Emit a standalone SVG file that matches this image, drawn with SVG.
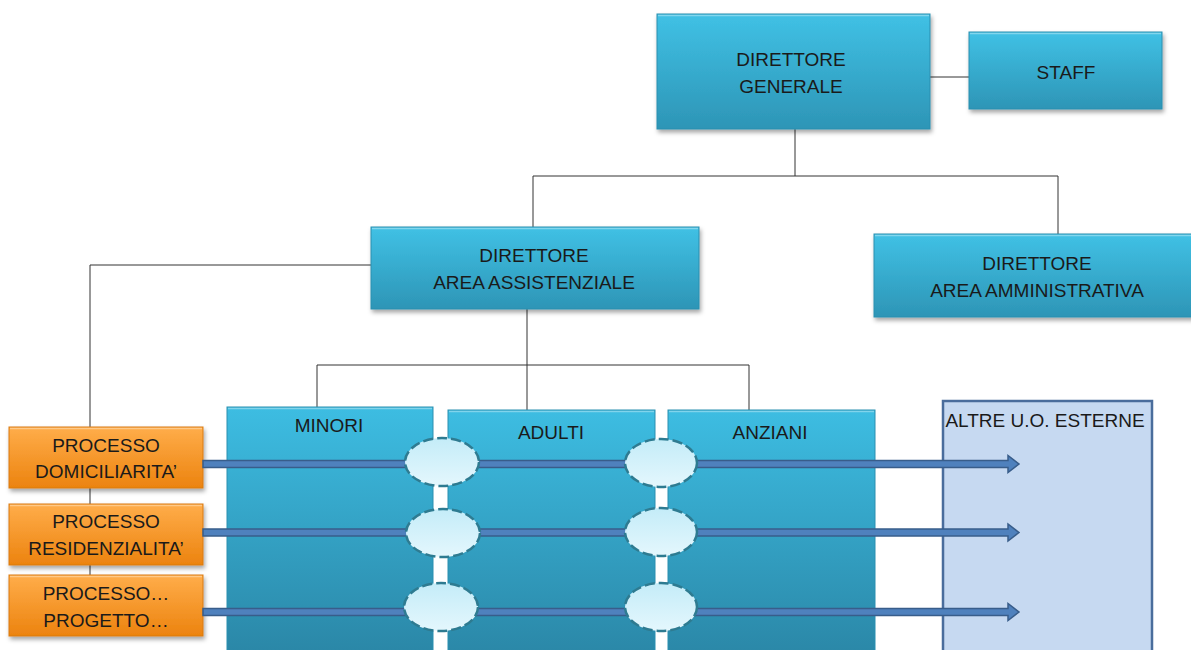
<svg xmlns="http://www.w3.org/2000/svg" width="1191" height="650" viewBox="0 0 1191 650">
  <defs>
    <linearGradient id="gBlue" x1="0" y1="0" x2="0" y2="1">
      <stop offset="0" stop-color="#40c1e5"/>
      <stop offset="1" stop-color="#2d95b6"/>
    </linearGradient>
    <linearGradient id="gCol" x1="0" y1="0" x2="0" y2="1">
      <stop offset="0" stop-color="#3dbde2"/>
      <stop offset="1" stop-color="#2a86a6"/>
    </linearGradient>
    <linearGradient id="gOrange" x1="0" y1="0" x2="0" y2="1">
      <stop offset="0" stop-color="#ffad4a"/>
      <stop offset="1" stop-color="#ec830f"/>
    </linearGradient>
    <linearGradient id="gBubble" x1="0" y1="0" x2="0" y2="1">
      <stop offset="0" stop-color="#c4ecf8"/>
      <stop offset="1" stop-color="#e4f7fd"/>
    </linearGradient>
    <filter id="shadow" x="-10%" y="-10%" width="125%" height="130%">
      <feDropShadow dx="1.5" dy="3" stdDeviation="2" flood-color="#000" flood-opacity="0.35"/>
    </filter>
    <style>
      .box { fill: url(#gBlue); stroke: #2b8fb0; stroke-width: 1; filter: url(#shadow); }
      .col { fill: url(#gCol); stroke: #2b8fb0; stroke-width: 1; }
      .proc { fill: url(#gOrange); stroke: #d97a10; stroke-width: 1; filter: url(#shadow); }
      .hl { fill: none; stroke: #ffffff; stroke-opacity: 0.35; stroke-width: 1.5; }
      .ext { fill: #c6d9f1; stroke: #4a6d9c; stroke-width: 2.5; }
      .lbl { font-family: "Liberation Sans", Arial, sans-serif; font-size: 19px; fill: #1a1a1a; text-anchor: middle; }
      .link { fill: none; stroke: #333333; stroke-width: 1; }
      .flow { fill: #4f81bd; stroke: #385d8a; stroke-width: 1.5; stroke-linejoin: miter; }
      .bubble { fill: url(#gBubble); stroke: #2e7b91; stroke-width: 2.5; stroke-dasharray: 10 4; }
    </style>
  </defs>

  <rect width="1191" height="650" fill="#ffffff"/>

  <!-- hierarchy lines -->
  <g id="connectors">
    <path class="link" d="M930 77 H969"/>
    <path class="link" d="M795 129 V176 M533 176 H1058 M533 176 V227 M1058 176 V234"/>
    <path class="link" d="M371 265 H90 V575"/>
    <path class="link" d="M527 309 V410 M317 365 H749 M317 365 V408 M749 365 V410"/>
  </g>

  <g id="direttore-generale">
    <rect class="box" x="657" y="14" width="273" height="115"/>
    <path class="hl" d="M658 15.5 H929"/>
    <text class="lbl" x="791" y="66">DIRETTORE</text>
    <text class="lbl" x="791" y="93">GENERALE</text>
  </g>

  <g id="staff">
    <rect class="box" x="969" y="32" width="193" height="77"/>
    <path class="hl" d="M970 33.5 H1161"/>
    <text class="lbl" x="1066" y="79">STAFF</text>
  </g>

  <g id="direttore-area-assistenziale">
    <rect class="box" x="371" y="227" width="328" height="82"/>
    <path class="hl" d="M372 228.5 H698"/>
    <text class="lbl" x="534" y="262">DIRETTORE</text>
    <text class="lbl" x="534" y="289">AREA ASSISTENZIALE</text>
  </g>

  <g id="direttore-area-amministrativa">
    <rect class="box" x="874" y="234" width="322" height="83"/>
    <path class="hl" d="M875 235.5 H1191"/>
    <text class="lbl" x="1037" y="270">DIRETTORE</text>
    <text class="lbl" x="1037" y="297">AREA AMMINISTRATIVA</text>
  </g>

  <g id="minori">
    <rect class="col" x="227" y="407" width="206" height="250"/>
    <path class="hl" d="M228 408.5 H432"/>
    <text class="lbl" x="329" y="432">MINORI</text>
  </g>

  <g id="adulti">
    <rect class="col" x="448" y="410" width="207" height="250"/>
    <path class="hl" d="M449 411.5 H654"/>
    <text class="lbl" x="551" y="439">ADULTI</text>
  </g>

  <g id="anziani">
    <rect class="col" x="668" y="410" width="207" height="250"/>
    <path class="hl" d="M669 411.5 H874"/>
    <text class="lbl" x="770" y="439">ANZIANI</text>
  </g>

  <g id="altre-uo-esterne">
    <rect class="ext" x="943" y="401" width="209" height="260"/>
    <text class="lbl" x="1045" y="427">ALTRE U.O. ESTERNE</text>
  </g>

  <g id="processo-domiciliarita">
    <rect class="proc" x="9" y="427" width="194" height="61"/>
    <path class="hl" d="M10 428.5 H202"/>
    <text class="lbl" x="106" y="452">PROCESSO</text>
    <text class="lbl" x="106" y="478">DOMICILIARITA’</text>
  </g>

  <g id="processo-residenzialita">
    <rect class="proc" x="9" y="504" width="194" height="61"/>
    <path class="hl" d="M10 505.5 H202"/>
    <text class="lbl" x="106" y="528">PROCESSO</text>
    <text class="lbl" x="106" y="555">RESIDENZIALITA’</text>
  </g>

  <g id="processo-progetto">
    <rect class="proc" x="9" y="575" width="194" height="61"/>
    <path class="hl" d="M10 576.5 H202"/>
    <text class="lbl" x="106" y="600">PROCESSO…</text>
    <text class="lbl" x="106" y="627">PROGETTO…</text>
  </g>

  <!-- process flows across the areas -->
  <g id="flows">
    <polygon class="flow" points="203,460.5 1008,460.5 1008,455.5 1019,464 1008,472.5 1008,467.5 203,467.5"/>
    <polygon class="flow" points="203,529 1008,529 1008,524 1019,532.5 1008,541 1008,536 203,536"/>
    <polygon class="flow" points="203,608.5 1008,608.5 1008,603.5 1019,612 1008,620.5 1008,615.5 203,615.5"/>
  </g>

  <!-- integration points -->
  <g id="nodi-integrazione">
    <ellipse class="bubble" cx="442" cy="462" rx="37" ry="24"/>
    <ellipse class="bubble" cx="661" cy="463" rx="36" ry="24"/>
    <ellipse class="bubble" cx="443" cy="533" rx="37" ry="24"/>
    <ellipse class="bubble" cx="661" cy="532" rx="36" ry="24"/>
    <ellipse class="bubble" cx="441" cy="607" rx="37" ry="24"/>
    <ellipse class="bubble" cx="661" cy="607" rx="36" ry="24"/>
  </g>
</svg>
